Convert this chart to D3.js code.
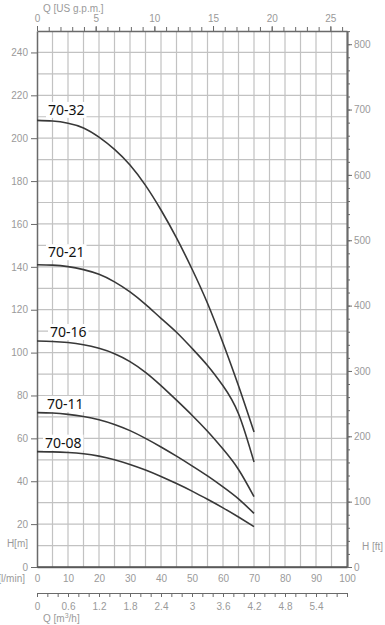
<!DOCTYPE html>
<html>
<head>
<meta charset="utf-8">
<script src="https://cdn.jsdelivr.net/npm/d3@7"></script>
<style>
body{margin:0;background:#fff}
svg{display:block}
.tick text,.lbl{fill:#9a9a9a;font-family:"Liberation Sans",Arial,sans-serif;font-size:10px}
.curveLabel{font-family:"Noto Sans",sans-serif;font-size:14px;fill:#111}
</style>
</head>
<body>
<svg id="chart" width="385" height="625"></svg>
<script>
// flow points (l/min) and head readings (m) for each pump
const flowLpm  = [0, 5, 10, 15, 20, 25, 30, 35, 40, 45, 50, 55, 60, 65, 70]
const head7032 = [208.3, 208, 207, 204.8, 200.5, 194.8, 187.5, 178, 166.5, 153.5, 139, 123, 104.5, 84.5, 63]
const head7021 = [141, 140.8, 140.1, 138.7, 136.5, 133, 128.3, 122.5, 116, 109.5, 102, 94, 84.5, 71.5, 49]
const head7016 = [105.4, 105.2, 104.7, 103.7, 102, 99.5, 95.8, 90.8, 84.6, 77.8, 70.8, 63.3, 55, 45.5, 32.8]
const head7011 = [72, 71.8, 71.2, 70.2, 68.7, 66.5, 63.6, 60, 56, 51.7, 47.2, 42.5, 37.4, 31.8, 25]
const head7008 = [53.8, 53.7, 53.4, 52.8, 51.7, 50, 47.8, 45.2, 42.2, 38.9, 35.4, 31.6, 27.6, 23.3, 18.8]
const curveNames = ["70-32", "70-21", "70-16", "70-11", "70-08"]

// tick labels
const hTicks   = [0, 20, 40, 60, 80, 100, 120, 140, 160, 180, 200, 220, 240]
const ftTicks  = [0, 100, 200, 300, 400, 500, 600, 700, 800]
const lpmTicks = [0, 10, 20, 30, 40, 50, 60, 70, 80, 90, 100]
const gpmTicks = [0, 5, 10, 15, 20, 25]
const m3hTicks = ["0", "0.6", "1.2", "1.8", "2.4", "3", "3.6", "4.2", "4.8", "5.4"]

const plotLeft = 37, plotRight = 347, plotTop = 31, plotBottom = 567
const svg = d3.select("#chart")

let x = d3.scaleLinear().domain([0, 100]).range([plotLeft, plotRight])
let y = d3.scaleLinear().domain([0, 250]).range([plotBottom, plotTop])
let yFt = d3.scaleLinear().domain([0, 250 / 0.3048]).range([plotBottom, plotTop])
let xGpm = d3.scaleLinear().domain([0, 100 / 3.78541]).range([plotLeft, plotRight])
let xM3h = d3.scaleLinear().domain([0, 6]).range([plotLeft, plotRight])

// grid
svg.append("g").selectAll("line").data(d3.range(5, 100, 5)).enter().append("line")
    .attr("x1", d => x(d)).attr("x2", d => x(d)).attr("y1", plotTop).attr("y2", plotBottom)
    .attr("stroke", "#c2c2c2").attr("stroke-width", 1.2)
svg.append("g").selectAll("line").data(d3.range(10, 250, 10)).enter().append("line")
    .attr("x1", plotLeft).attr("x2", plotRight).attr("y1", d => y(d)).attr("y2", d => y(d))
    .attr("stroke", "#c2c2c2").attr("stroke-width", 1.2)

function styleAxis(g) {
    g.selectAll(".domain").attr("stroke", "#6a6a6a").attr("stroke-width", 1.5)
    g.selectAll(".tick line").attr("stroke", "#6a6a6a")
}

// left H [m]
svg.append("g").attr("transform", `translate(${plotLeft},0)`)
    .call(d3.axisLeft(y).tickValues(hTicks).tickSize(6).tickSizeOuter(0).tickPadding(3))
    .call(styleAxis)
svg.append("text").attr("class", "lbl").attr("x", 28).attr("y", 547).attr("text-anchor", "end").text("H[m]")

// right H [ft]
svg.append("g").attr("transform", `translate(${plotRight},0)`)
    .call(d3.axisRight(yFt).tickValues(d3.range(0, 821, 20)).tickSize(3).tickSizeOuter(0).tickFormat(""))
    .call(styleAxis)
    .call(g => g.select(".domain").attr("stroke-width", 2.2))
svg.append("g").attr("transform", `translate(${plotRight},0)`)
    .call(d3.axisRight(yFt).tickValues(ftTicks).tickSize(5).tickSizeOuter(0).tickPadding(2))
    .call(styleAxis)
    .call(g => g.select(".domain").remove())
svg.append("text").attr("class", "lbl").attr("x", 362).attr("y", 550).text("H [ft]")

// bottom l/min
svg.append("g").attr("transform", `translate(0,${plotBottom})`)
    .call(d3.axisBottom(x).tickValues(lpmTicks).tickSize(0).tickPadding(8))
    .call(styleAxis)
svg.append("text").attr("class", "lbl").attr("x", 25).attr("y", 582).attr("text-anchor", "end").text("Q [l/min]")

// top US gpm
svg.append("g").attr("transform", `translate(0,${plotTop})`)
    .call(d3.axisTop(xGpm).tickValues(d3.range(0, 27, 1)).tickSize(4).tickSizeOuter(0).tickFormat(""))
    .call(styleAxis)
svg.append("g").attr("transform", `translate(0,${plotTop})`)
    .call(d3.axisTop(xGpm).tickValues(gpmTicks).tickSize(5).tickSizeOuter(0).tickPadding(4))
    .call(styleAxis)
    .call(g => g.select(".domain").remove())
svg.append("text").attr("class", "lbl").attr("x", 43).attr("y", 12).text("Q [US g.p.m.]")

// m3/h axis
const m3Y = 593
svg.append("g").attr("transform", `translate(0,${m3Y})`)
    .call(d3.axisBottom(xM3h).tickValues(d3.range(0, 6.01, 0.2)).tickSize(4).tickSizeOuter(0).tickFormat(""))
    .call(styleAxis)
    .call(g => g.select(".domain").attr("stroke-width", 1.2))
svg.append("g").attr("transform", `translate(0,${m3Y})`)
    .call(d3.axisBottom(xM3h).tickValues(m3hTicks.map(Number)).tickFormat((d, i) => m3hTicks[i])
        .tickSize(0).tickPadding(10))
    .call(styleAxis)
    .call(g => g.select(".domain").remove())
let m3Label = svg.append("text").attr("class", "lbl").attr("x", 43).attr("y", 622)
m3Label.append("tspan").text("Q [m")
m3Label.append("tspan").attr("dy", -4).attr("font-size", "7px").text("3")
m3Label.append("tspan").attr("dy", 4).text("/h]")

// bottom border
svg.append("line").attr("x1", plotLeft).attr("x2", plotRight).attr("y1", plotBottom).attr("y2", plotBottom)
    .attr("stroke", "#555").attr("stroke-width", 1.5)

// curves
const heads = [head7032, head7021, head7016, head7011, head7008]
let line = d3.line().x((d, i) => x(flowLpm[i])).y(d => y(d)).curve(d3.curveNatural)
svg.append("g").selectAll("path").data(heads).enter().append("path")
    .attr("d", line).attr("fill", "none").attr("stroke", "#383838").attr("stroke-width", 1.6)

// curve labels with white boxes
const labelDx = [48, 48, 50, 47, 45]
const labelDy = [5.5, 7.5, 4, 3.7, 4]
heads.forEach(function (h, i) {
    let g = svg.append("g")
    let t = g.append("text").attr("class", "curveLabel")
        .attr("x", labelDx[i]).attr("y", y(h[0]) - labelDy[i]).text(curveNames[i])
    let b = t.node().getBBox()
    g.insert("rect", "text").attr("x", b.x - 2).attr("y", b.y + 2).attr("width", b.width + 4).attr("height", b.height - 3)
        .attr("fill", "#fff")
})
</script>
</body>
</html>
